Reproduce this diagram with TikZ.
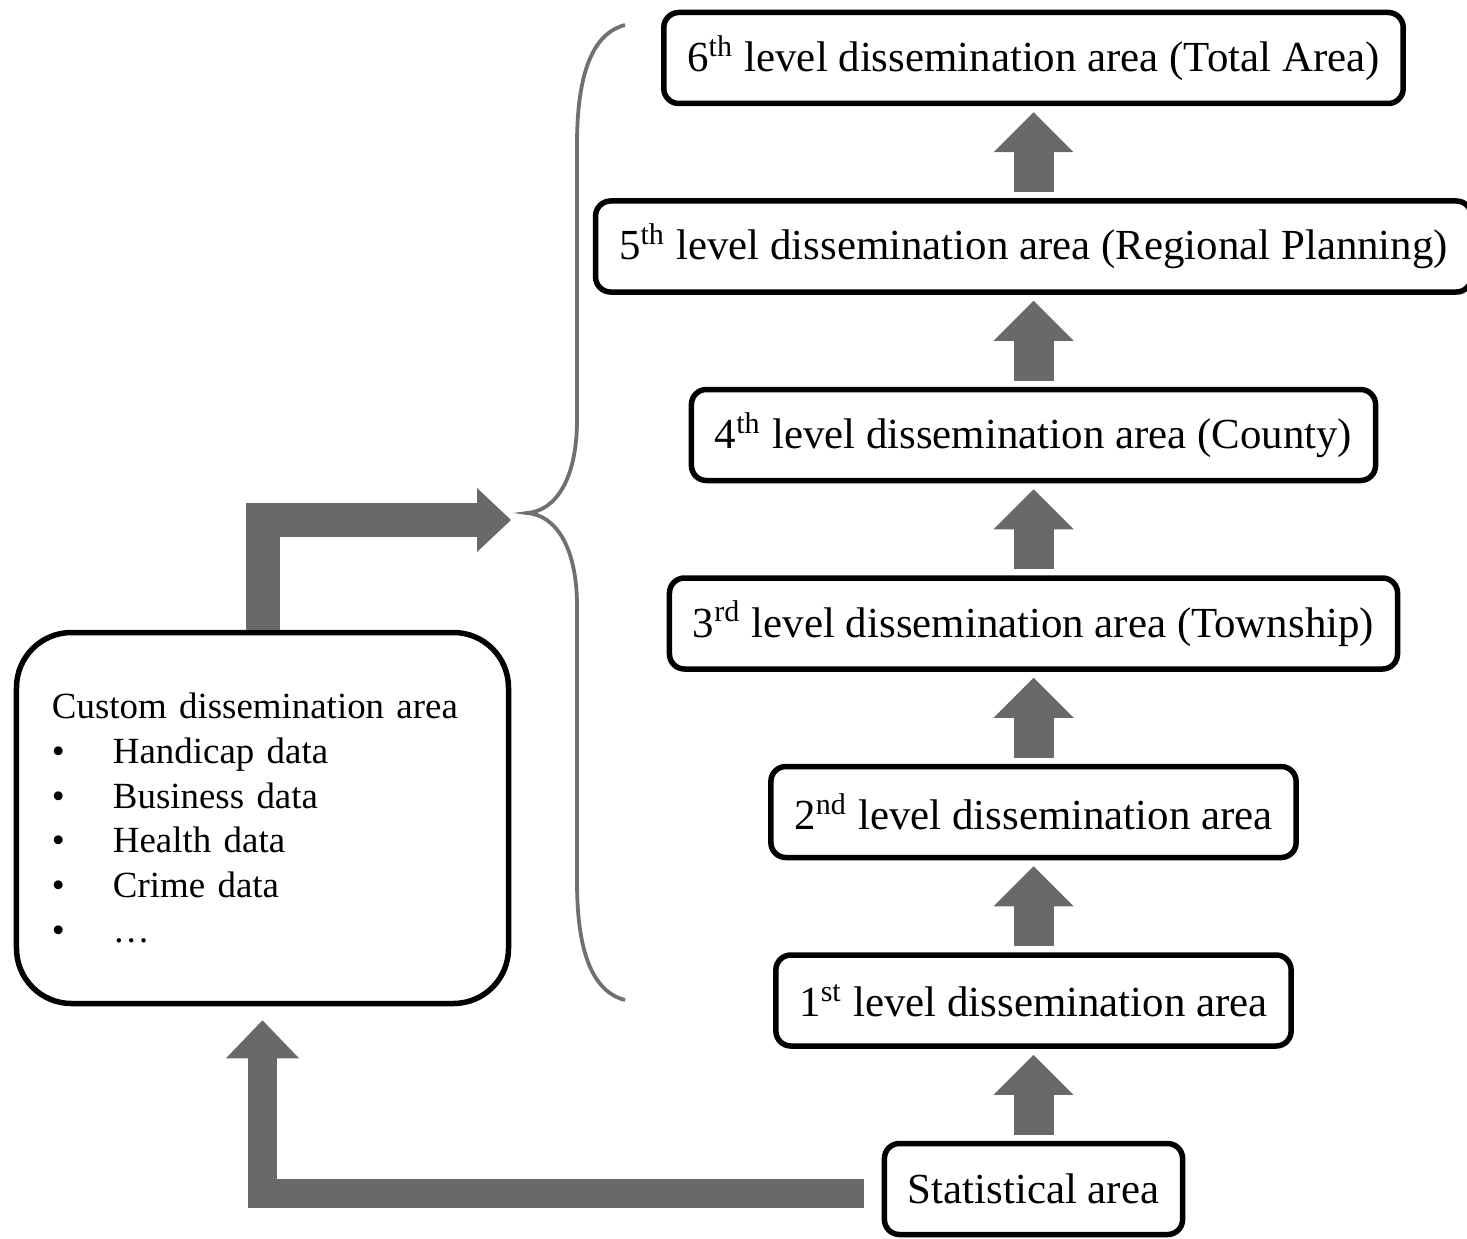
\documentclass[tikz,border=0pt]{standalone}
\usepackage{fontspec}
\setmainfont{Liberation Serif}
\usepackage{tikz}
\usetikzlibrary{arrows.meta, positioning, calc}
\definecolor{cArrow}{RGB}{105,105,105}
\definecolor{cBrace}{RGB}{112,112,112}
\tikzset{
	lvlbox/.style   ={rectangle, rounded corners=1.5mm, draw=black, line width=0.55mm, minimum height=9.1mm, inner xsep=2.35mm, align=center, font=\fontsize{12.2}{14}\selectfont},
	custbox/.style  ={rectangle, rounded corners=5.5mm, draw=black, line width=0.55mm, minimum width=49.2mm, minimum height=37.1mm, text width=42.1mm, inner xsep=3.55mm, align=left, font=\fontsize{10.5}{12.75}\selectfont},
	uparrow/.style  ={draw=cArrow, line width=4mm, -{Triangle[length=4mm, width=8mm, line width=0pt]}, shorten <=0.6mm, shorten >=0.6mm},
	bendarrow/.style={draw=cArrow, line width=3.4mm, -{Triangle[length=3.4mm, width=6.4mm, line width=0pt]}},
	bracel/.style   ={draw=cBrace, line width=0.38mm},
}
\newcommand{\itm}{\makebox[6.1mm][l]{\textbullet}}

\begin{document}
\begin{tikzpicture}[x=1mm, y=-1mm, node distance=9.2mm]
	\useasboundingbox (0,0) rectangle (146.7,123.9);
	% level boxes, top to bottom
	\node[lvlbox] (l6) at (103.35,5.8) {6\textsuperscript{th} level dissemination area (Total Area)};
	\node[lvlbox, below=of l6] (l5) {5\textsuperscript{th} level dissemination area (Regional Planning)};
	\node[lvlbox, below=of l5] (l4) {4\textsuperscript{th} level dissemination area (County)};
	\node[lvlbox, below=of l4] (l3) {3\textsuperscript{rd} level dissemination area (Township)};
	\node[lvlbox, below=of l3] (l2) {2\textsuperscript{nd} level dissemination area};
	\node[lvlbox, below=of l2] (l1) {1\textsuperscript{st} level dissemination area};
	\node[lvlbox, below=of l1] (stat) {Statistical area};
	\foreach \a/\b in {stat/l1, l1/l2, l2/l3, l3/l4, l4/l5, l5/l6} {
		\draw[uparrow] (\a) -- (\b);
	}
	\node[custbox] (cust) at (26.25,81.8) {Custom dissemination area\\
		\itm Handicap data\\
		\itm Business data\\
		\itm Health data\\
		\itm Crime data\\
		\itm …};
	% brace round the levels
	\draw[bracel] (62.5,2.5) .. controls (58.6,3.5) and (57.7,9) .. (57.7,14.5) -- (57.7,42)
		.. controls (57.7,48) and (55.5,51.1) .. (52.7,51.3)
		.. controls (55.5,51.5) and (57.7,54.6) .. (57.7,60.6) -- (57.7,88.1)
		.. controls (57.7,93.6) and (58.6,99) .. (62.5,100);
	\coordinate (tipin) at (51.1,52.0);
	\draw[bendarrow] (cust.north) |- (tipin);
	\draw[bendarrow, line width=2.9mm, -{Triangle[length=3.8mm, width=7.3mm, line width=0pt]}, shorten <=1.8mm, shorten >=1.4mm]
		([yshift=-0.45mm]stat.west) -| (cust.south);
\end{tikzpicture}
\end{document}
